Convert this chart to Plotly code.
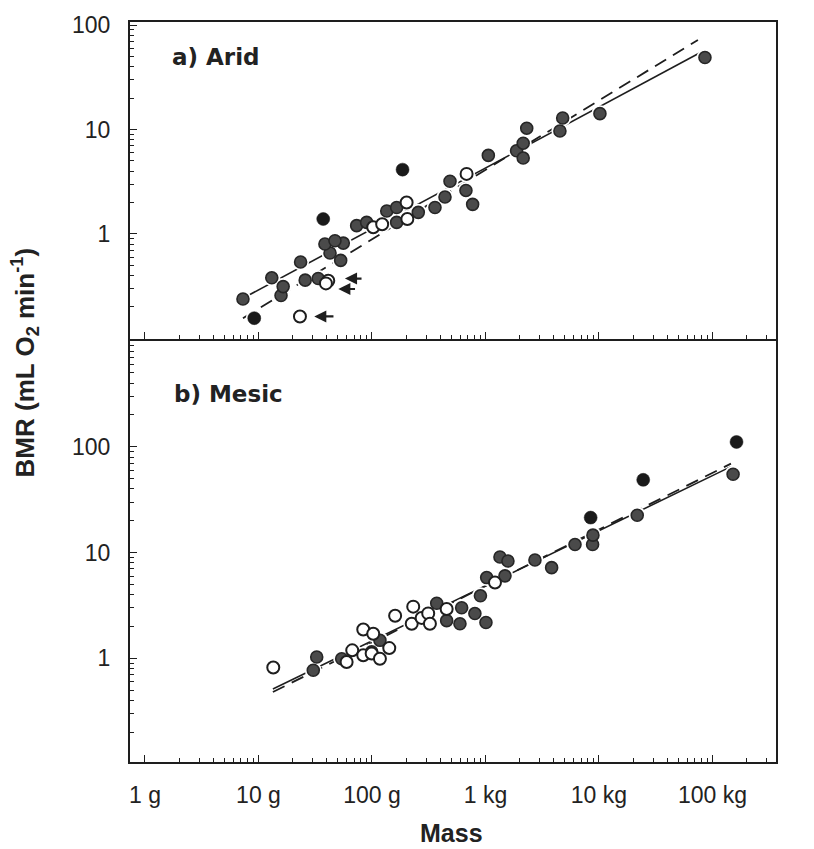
import numpy as np
import plotly.graph_objects as go

# ---------------- data (mass in g, BMR in mL O2 / min) ----------------
arid_gray_mass = [7.3, 13.1, 15.8, 16.5, 23.5, 25.8, 33.6, 42.7, 53.0, 38.5, 55.9, 47.2,
                  73.3, 89.8, 135, 165, 165, 256, 359, 440, 487, 673, 771, 1060, 1880,
                  2150, 2150, 2310, 4530, 4790, 10200, 85900]
arid_gray_bmr = [0.238, 0.380, 0.257, 0.313, 0.539, 0.361, 0.374, 0.656, 0.558, 0.80, 0.817, 0.86,
                 1.20, 1.29, 1.66, 1.79, 1.29, 1.61, 1.79, 2.26, 3.2, 2.61, 1.92, 5.65, 6.26,
                 7.4, 5.33, 10.3, 9.68, 12.9, 14.2, 49]
arid_open_mass = [41.2, 39.3, 23.2, 102.6, 123, 202, 205, 682]
arid_open_bmr = [0.356, 0.336, 0.162, 1.16, 1.24, 2.0, 1.39, 3.76]
arid_black_mass = [9.18, 37.2, 186]
arid_black_bmr = [0.156, 1.39, 4.13]

mesic_open_mass = [13.5, 59.8, 67.0, 83.8, 102.6, 83.8, 99.4, 117.5, 142, 160, 231, 224,
                   274, 313, 324, 455, 1213]
mesic_open_bmr = [0.818, 0.923, 1.19, 1.87, 1.71, 1.07, 1.11, 0.99, 1.25, 2.53, 3.08, 2.12,
                  2.41, 2.66, 2.12, 2.93, 5.2]
mesic_gray_mass = [32.6, 30.4, 54.1, 117.5, 99.4, 372, 455, 617, 596, 807, 1010, 903, 1025,
                   1486, 1342, 1578, 2729, 3829, 6150, 8790, 8850, 21740, 152000]
mesic_gray_bmr = [1.03, 0.771, 0.99, 1.48, 1.15, 3.32, 2.27, 3.01, 2.12, 2.65, 2.18, 3.9, 5.8,
                  6.02, 9.08, 8.32, 8.5, 7.2, 11.9, 11.9, 14.6, 22.5, 55]
mesic_black_mass = [8450, 24550, 163000]
mesic_black_bmr = [21.4, 48.7, 111]

# regression lines (end points)
arid_solid_mass = [7.3, 77600]
arid_solid_bmr = [0.242, 54.3]
arid_dash_mass = [7.3, 74500]
arid_dash_bmr = [0.156, 72.1]
mesic_solid_mass = [13.4, 145600]
mesic_solid_bmr = [0.512, 64.9]
mesic_dash_mass = [13.4, 145600]
mesic_dash_bmr = [0.480, 69.2]

# arrows pointing at open symbols (arid)
arrow_tip_mass = [57.8, 50.5, 31.0]
arrow_tip_bmr = [0.374, 0.297, 0.162]
arrow_tail_mass = [83.4, 73.1, 47.2]

x_tickvals = [1, 10, 100, 1000, 10000, 100000]
x_ticktext = ["1 g", "10 g", "100 g", "1 kg", "10 kg", "100 kg"]
y_top_ticks = [1, 10, 100]
y_bot_ticks = [0.1, 1, 10, 100]

# ---------------- styling ----------------
INK = "#1e1e1e"
GRAY_FILL = "#4a4a4a"
FONT = "Arial"

fig = go.Figure()

def add_panel(xa, ya, gm, gb, om, ob, bm, bb, sm, sb, dm, db):
    fig.add_trace(go.Scatter(x=sm, y=sb, mode="lines", xaxis=xa, yaxis=ya,
                             line=dict(color=INK, width=1.6), showlegend=False))
    fig.add_trace(go.Scatter(x=dm, y=db, mode="lines", xaxis=xa, yaxis=ya,
                             line=dict(color=INK, width=1.8, dash="13px,8px"), showlegend=False))
    # white halos (scanned look)
    fig.add_trace(go.Scatter(x=gm + om + bm, y=gb + ob + bb, mode="markers", xaxis=xa, yaxis=ya,
                             marker=dict(size=17, color="white", line=dict(width=0)),
                             showlegend=False, hoverinfo="skip"))
    fig.add_trace(go.Scatter(x=gm, y=gb, mode="markers", xaxis=xa, yaxis=ya,
                             marker=dict(size=12, color=GRAY_FILL, line=dict(color="#262626", width=1.6)),
                             showlegend=False))
    fig.add_trace(go.Scatter(x=om, y=ob, mode="markers", xaxis=xa, yaxis=ya,
                             marker=dict(size=12, color="white", line=dict(color=INK, width=2)),
                             showlegend=False))
    fig.add_trace(go.Scatter(x=bm, y=bb, mode="markers", xaxis=xa, yaxis=ya,
                             marker=dict(size=13, color="#1a1a1a", line=dict(color="#1a1a1a", width=0.5)),
                             showlegend=False))

add_panel("x", "y", arid_gray_mass, arid_gray_bmr, arid_open_mass, arid_open_bmr,
          arid_black_mass, arid_black_bmr, arid_solid_mass, arid_solid_bmr,
          arid_dash_mass, arid_dash_bmr)
add_panel("x2", "y2", mesic_gray_mass, mesic_gray_bmr, mesic_open_mass, mesic_open_bmr,
          mesic_black_mass, mesic_black_bmr, mesic_solid_mass, mesic_solid_bmr,
          mesic_dash_mass, mesic_dash_bmr)

# minor ticks
def minor_vals(lo, hi):
    out = []
    for e in range(lo, hi + 1):
        for k in range(2, 10):
            out.append(k * 10 ** e)
    return out

x_minor = minor_vals(0, 5)
y_minor = minor_vals(-1, 2)

X_RANGE = [-0.132, 5.56]
SPLIT = 426 / 745

axis_common = dict(type="log", showgrid=False, zeroline=False, showline=True,
                   linecolor=INK, linewidth=2, ticks="inside", ticklen=7, tickwidth=1.2,
                   tickcolor=INK, tickfont=dict(family=FONT, size=23, color="#222"))
minor_common = dict(ticks="inside", ticklen=4, tickcolor=INK, tickwidth=1)

fig.update_layout(
    width=814, height=849,
    margin=dict(l=130, r=38, t=17, b=87),
    paper_bgcolor="white", plot_bgcolor="white",
    showlegend=False,
    xaxis=dict(**axis_common, mirror=True, anchor="y", range=X_RANGE, tickvals=x_tickvals,
               showticklabels=False, minor=dict(tickvals=x_minor, **minor_common)),
    yaxis=dict(**axis_common, mirror=True, domain=[SPLIT, 1], anchor="x", range=[-1.005, 2.03],
               tickvals=y_top_ticks, ticktext=["1", "10", "100"], ticklabelstandoff=13,
               minor=dict(tickvals=y_minor, **minor_common)),
    xaxis2=dict(**axis_common, mirror=False, anchor="y2", range=X_RANGE, tickvals=x_tickvals,
                ticktext=x_ticktext, ticklabelstandoff=11,
                minor=dict(tickvals=x_minor, **minor_common)),
    yaxis2=dict(**axis_common, mirror=True, domain=[0, SPLIT], anchor="x2", range=[-0.98, 3.02],
                tickvals=y_bot_ticks, ticktext=["0.1", "1", "10", "100"], ticklabelstandoff=13,
                minor=dict(tickvals=y_minor + [k * 100 for k in range(2, 10)], **minor_common)),
)

# arrows
for tm, tb, am in zip(arrow_tip_mass, arrow_tip_bmr, arrow_tail_mass):
    fig.add_annotation(x=np.log10(tm), y=np.log10(tb), ax=np.log10(am), ay=np.log10(tb),
                       xref="x", yref="y", axref="x", ayref="y", text="", showarrow=True,
                       arrowhead=2, arrowsize=1.1, arrowwidth=2.2, arrowcolor=INK, standoff=0)

# panel labels and axis titles
fig.add_annotation(x=0.062, y=0.953, xref="paper", yref="paper", xanchor="left", yanchor="middle",
                   text="<b>a) Arid</b>", showarrow=False,
                   font=dict(family="DejaVu Sans", size=23, color="#222"))
fig.add_annotation(x=0.065, y=0.497, xref="paper", yref="paper", xanchor="left", yanchor="middle",
                   text="<b>b) Mesic</b>", showarrow=False,
                   font=dict(family="DejaVu Sans", size=23, color="#222"))
fig.add_annotation(x=0.497, y=-0.0953, xref="paper", yref="paper", xanchor="center", yanchor="middle",
                   text="<b>Mass</b>", showarrow=False,
                   font=dict(family=FONT, size=25, color="#222"))
fig.add_annotation(x=-0.1625, y=0.54, xref="paper", yref="paper", xanchor="center", yanchor="middle",
                   textangle=-90, text="<b>BMR (mL O<sub>2</sub> min<sup>-1</sup>)</b>",
                   showarrow=False, font=dict(family=FONT, size=26, color="#222"))

fig.write_html("out.html")
